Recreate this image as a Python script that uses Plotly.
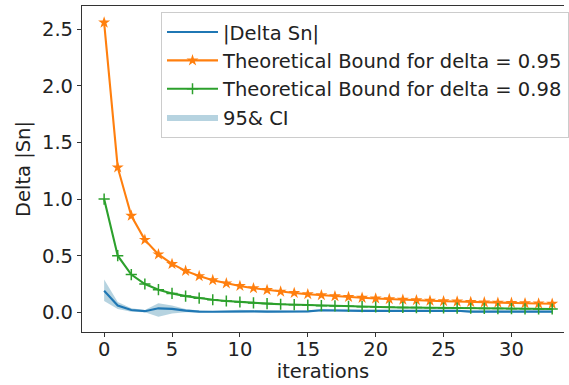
import plotly.graph_objects as go

iterations = list(range(34))
delta_sn = [0.19, 0.06, 0.02, 0.01, 0.035, 0.03, 0.015, 0.006, 0.005, 0.006, 0.012, 0.008, 0.006, 0.006, 0.006, 0.008, 0.018,
            0.015, 0.014, 0.013, 0.013, 0.013, 0.013, 0.014, 0.014, 0.014, 0.014, 0.006, 0.006, 0.006, 0.006, 0.006, 0.006, 0.006]
ci_upper = [0.29, 0.09, 0.035, 0.02, 0.08, 0.06, 0.03, 0.015, 0.012, 0.014, 0.022, 0.016, 0.013, 0.013, 0.013, 0.016, 0.027,
            0.024, 0.022, 0.021, 0.021, 0.021, 0.021, 0.022, 0.022, 0.022, 0.022, 0.014, 0.013, 0.013, 0.013, 0.013, 0.013, 0.013]
ci_lower = [0.1, 0.03, 0.005, 0.0, -0.04, -0.01, 0.0, -0.003, -0.002, -0.002, 0.002, 0.0, -0.001, -0.001, -0.001, 0.0, 0.009,
            0.007, 0.006, 0.005, 0.005, 0.005, 0.005, 0.006, 0.006, 0.006, 0.006, -0.001, -0.001, -0.001, -0.001, -0.001, -0.001, -0.001]
bound_095 = [2.56, 1.28, 0.853, 0.64, 0.512, 0.427, 0.366, 0.32, 0.284, 0.256, 0.233, 0.213, 0.197, 0.183, 0.171, 0.16, 0.151,
             0.142, 0.135, 0.128, 0.122, 0.116, 0.111, 0.107, 0.102, 0.098, 0.095, 0.091, 0.088, 0.085, 0.083, 0.08, 0.078, 0.075]
bound_098 = [1.0, 0.5, 0.333, 0.25, 0.2, 0.167, 0.143, 0.125, 0.111, 0.1, 0.091, 0.083, 0.077, 0.071, 0.067, 0.063, 0.059,
             0.056, 0.053, 0.05, 0.048, 0.045, 0.043, 0.042, 0.04, 0.038, 0.037, 0.036, 0.034, 0.033, 0.032, 0.031, 0.03, 0.029]
x_ticks = [0, 5, 10, 15, 20, 25, 30]
y_ticks = [0.0, 0.5, 1.0, 1.5, 2.0, 2.5]

BLUE = "#1f77b4"
ORANGE = "#ff7f0e"
GREEN = "#2ca02c"
FONT = "DejaVu Sans"
FS = 19.5

fig = go.Figure()
fig.add_trace(go.Scatter(x=iterations, y=ci_lower, mode="lines", line=dict(width=0, color="rgba(0,0,0,0)"),
                         showlegend=False, hoverinfo="skip"))
fig.add_trace(go.Scatter(x=iterations, y=ci_upper, mode="lines", line=dict(width=0, color="rgba(0,0,0,0)"),
                         fill="tonexty", fillcolor="rgba(80,150,180,0.42)", name="95& CI", legendrank=4))
fig.add_trace(go.Scatter(x=iterations, y=delta_sn, mode="lines", name="|Delta Sn|",
                         line=dict(color=BLUE, width=2.1), legendrank=1))
fig.add_trace(go.Scatter(x=iterations, y=bound_095, mode="lines+markers", name="Theoretical Bound for delta = 0.95",
                         line=dict(color=ORANGE, width=2.1),
                         marker=dict(symbol="star", size=9, color=ORANGE), legendrank=2))
fig.add_trace(go.Scatter(x=iterations, y=bound_098, mode="lines+markers", name="Theoretical Bound for delta = 0.98",
                         line=dict(color=GREEN, width=2.1),
                         marker=dict(symbol="cross-thin", size=8, color=GREEN, line=dict(color=GREEN, width=1.5)),
                         legendrank=3))

axis_common = dict(showgrid=False, zeroline=False, showline=True, linecolor="#333", linewidth=1.2,
                   ticks="outside", ticklen=4, tickwidth=1.2, tickcolor="#333", automargin=False,
                   tickfont=dict(family=FONT, size=FS, color="#222"))

fig.update_layout(
    width=569, height=385,
    margin=dict(l=82, r=0, t=6, b=53),
    paper_bgcolor="white", plot_bgcolor="white",
    font=dict(family=FONT, size=FS, color="#222"),
    xaxis=dict(range=[-1.63, 33.87], tickvals=x_ticks, mirror=True, ticklabelstandoff=-5,
               title=dict(text="iterations", font=dict(family=FONT, size=FS, color="#222"), standoff=0),
               **axis_common),
    yaxis=dict(range=[-0.174, 2.706], tickvals=y_ticks, tickformat=".1f",
               title=dict(text="Delta |Sn|", font=dict(family=FONT, size=FS, color="#222"), standoff=6),
               **axis_common),
    legend=dict(x=0.164, y=0.982, xanchor="left", yanchor="top", bgcolor="rgba(255,255,255,0.85)",
                bordercolor="#cccccc", borderwidth=1, font=dict(family=FONT, size=FS, color="#222"),
                tracegroupgap=0, itemwidth=51, traceorder="normal"),
    showlegend=True,
)

fig.write_html("out.html", config={"displayModeBar": False},
               post_script="document.body.style.margin='0';document.body.style.overflow='hidden';")
